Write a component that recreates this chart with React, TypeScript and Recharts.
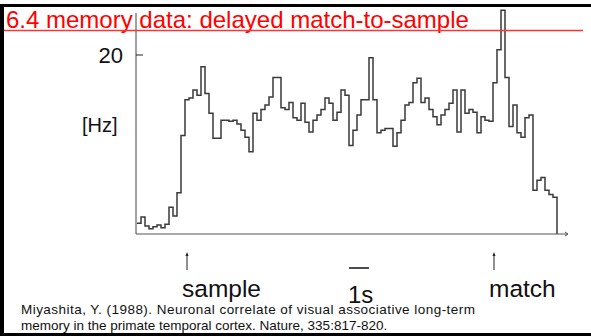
import { Line, LineChart, ReferenceLine, XAxis, YAxis } from 'recharts';

// PSTH of an IT neuron during delayed match-to-sample (Miyashita 1988)
const BIN_START = -2.5; // s, relative to sample onset
const BIN_WIDTH = 0.2; // s

const rates = [
  1.2, 1.9, 0.9, 0.6, 0.8, 1.0, 0.7, 1.1, 3.0, 2.0,
  4.6, 11.0, 15.0, 15.2, 16.1, 15.5, 18.7, 15.7, 13.5, 10.7,
  10.7, 12.7, 12.7, 12.6, 12.7, 12.3, 11.6, 10.8, 9.2, 13.5,
  12.7, 13.9, 14.4, 15.3, 17.5, 17.5, 14.1, 13.9, 14.7, 13.0,
  12.7, 14.6, 12.5, 11.4, 12.7, 13.3, 13.9, 15.2, 14.6, 12.7,
  13.6, 16.1, 15.5, 9.9, 11.6, 13.3, 15.0, 15.0, 19.7, 15.0,
  11.3, 11.6, 11.8, 11.8, 9.8, 11.3, 12.7, 14.4, 14.7, 16.9,
  17.4, 14.7, 15.2, 13.9, 13.1, 12.2, 13.3, 13.9, 14.6, 16.1,
  11.4, 16.1, 13.5, 13.9, 13.6, 11.3, 13.1, 12.7, 12.6, 16.9,
  20.6, 25.0, 17.5, 12.0, 14.4, 11.3, 10.8, 13.0, 13.3, 4.9,
  6.0, 6.3, 4.9, 4.4, 4.1,
];

const eventTimes = [0, 15.35];
const eventLabels = ['sample', 'match'];
const yTicks = [20];

const T_MIN = -2.55;
const T_MAX = 19.05;
const Y_MAX = 26;
const Y_AXIS_TOP = 24.7;

const data = [
  ...rates.map((hz, i) => ({ t: +(BIN_START + i * BIN_WIDTH).toFixed(2), hz })),
  { t: +(BIN_START + rates.length * BIN_WIDTH).toFixed(2), hz: 0 },
];

const FONT = '"Liberation Sans", Arial, sans-serif';

function EventTick(props: any) {
  const { x, y, payload } = props;
  const idx = eventTimes.indexOf(payload.value);
  return (
    <g>
      <line x1={x} y1={y + 20} x2={x} y2={y + 36} stroke="#222" strokeWidth={1} />
      <path d={`M${x - 1.5},${y + 22} L${x},${y + 18} L${x + 1.5},${y + 22} Z`} fill="#222" />
      <text x={x - 5} y={y + 63} fontSize={24.5} fontFamily={FONT} fill="#111">
        {eventLabels[idx]}
      </text>
    </g>
  );
}

function RateTick(props: any) {
  const { x, y, payload } = props;
  return (
    <g>
      <line x1={x} y1={y} x2={x + 7} y2={y} stroke="#222" strokeWidth={1} />
      <text x={x - 13} y={y + 8} textAnchor="end" fontSize={22} fontFamily={FONT} fill="#111">
        {payload.value}
      </text>
    </g>
  );
}

export default function App() {
  return (
    <div style={{ position: 'absolute', left: 0, top: 0, width: 591, height: 336, background: '#fff' }}>
      <LineChart
        width={591}
        height={336}
        data={data}
        margin={{ top: 1.3, right: 23, bottom: 0, left: 0 }}
      >
        <XAxis
          dataKey="t"
          type="number"
          domain={[T_MIN, T_MAX]}
          ticks={eventTimes}
          tick={<EventTick />}
          tickLine={false}
          tickSize={0}
          tickMargin={0}
          axisLine={{ stroke: '#555', strokeWidth: 1 }}
          height={102}
          interval={0}
          allowDataOverflow
        />
        <YAxis
          type="number"
          domain={[0, Y_MAX]}
          ticks={yTicks}
          tick={<RateTick />}
          tickLine={false}
          tickSize={0}
          tickMargin={0}
          axisLine={false}
          width={136}
          interval={0}
        />
        <ReferenceLine
          segment={[
            { x: T_MIN, y: 0 },
            { x: T_MIN, y: Y_AXIS_TOP },
          ]}
          stroke="#444"
          strokeWidth={1}
        />
        <Line
          type="stepAfter"
          dataKey="hz"
          stroke="#3a3a3a"
          strokeWidth={1.5}
          dot={false}
          isAnimationActive={false}
        />
      </LineChart>
      <svg
        width={591}
        height={336}
        style={{ position: 'absolute', left: 0, top: 0, pointerEvents: 'none' }}
        fontFamily={FONT}
      >
        <rect x={0} y={4} width={591} height={3} fill="#000" />
        <rect x={0} y={4} width={4} height={332} fill="#000" />
        <rect x={0} y={333} width={591} height={3} fill="#000" />
        <text x={6} y={28} fontSize={24} fill="#f00">
          6.4 memory data: delayed match-to-sample
        </text>
        <line x1={4} y1={30.5} x2={583} y2={30.5} stroke="#f33" strokeWidth={1.5} />
        <line x1={565} y1={232} x2={568} y2={234} stroke="#555" strokeWidth={1} />
        <line x1={565} y1={236} x2={568} y2={234} stroke="#555" strokeWidth={1} />
        <text x={82} y={132} fontSize={20} fill="#111">
          [Hz]
        </text>
        <line x1={349} y1={268} x2={369} y2={268} stroke="#111" strokeWidth={1.5} />
        <text x={348} y={303} fontSize={24} fill="#111">
          1s
        </text>
        <text x={21} y={314} fontSize={13.5} fill="#111" textLength={454} lengthAdjust="spacing">
          Miyashita, Y. (1988). Neuronal correlate of visual associative long-term
        </text>
        <text x={21} y={330} fontSize={13.5} fill="#111">
          memory in the primate temporal cortex. Nature, 335:817-820.
        </text>
      </svg>
    </div>
  );
}
